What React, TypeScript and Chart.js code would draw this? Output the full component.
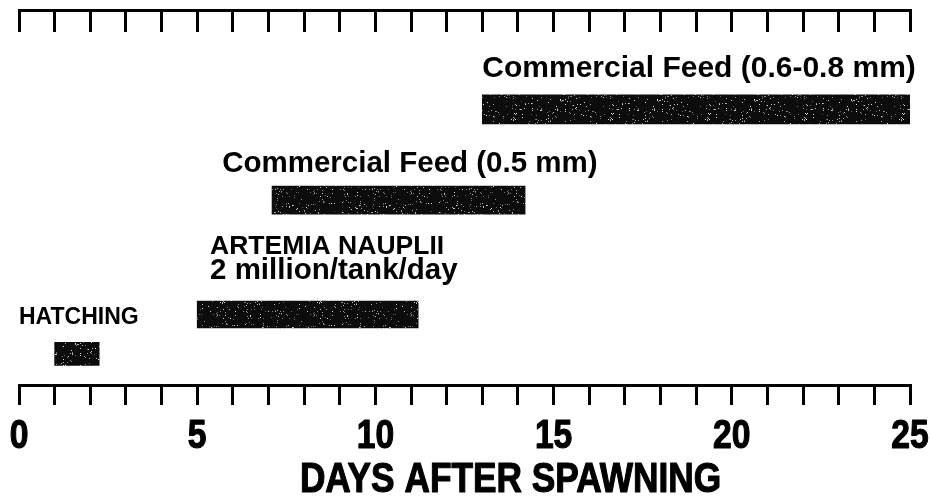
import React, { useEffect, useRef } from "react";
import { Chart, registerables } from "chart.js";

Chart.register(...registerables);

// ---- data ----
const phases = [
  "HATCHING",
  "ARTEMIA NAUPLII",
  "Commercial Feed (0.5 mm)",
  "Commercial Feed (0.6-0.8 mm)",
];
const startDay = [1, 5, 7.1, 13];
const endDay = [2.25, 11.2, 14.2, 25];
const dayLabels = [0, 5, 10, 15, 20, 25];
const axisTitle = "DAYS AFTER SPAWNING";
const annotationLines = [
  "Commercial Feed (0.6-0.8 mm)",
  "Commercial Feed (0.5 mm)",
  "ARTEMIA NAUPLII",
  "2 million/tank/day",
  "HATCHING",
];

// ---- layout (not data) ----
const rowLevel = [8.3, 18.8, 49.3, 73.5];
const rowThickness = [23, 27, 28, 29];
const annotationDay = [13.0, 5.7, 5.36, 5.36, 0];
const annotationLevel = [82.1, 56.8, 34.9, 28.3, 16.3];
const annotationSize = [30, 29.5, 26.5, 29.5, 23];

const SANS = '"Liberation Sans", Arial, Helvetica, sans-serif';
const CONDENSE = 0.82;

function makeSpeckle(): CanvasPattern | string {
  const c = document.createElement("canvas");
  c.width = 97;
  c.height = 61;
  const g = c.getContext("2d");
  if (!g) return "#111";
  g.fillStyle = "#0c0c0c";
  g.fillRect(0, 0, c.width, c.height);
  let s = 20240607;
  const rnd = () => {
    s = (Math.imul(s, 1103515245) + 12345) >>> 0;
    return s / 4294967296;
  };
  for (let i = 0; i < 300; i++) {
    const x = Math.floor(rnd() * c.width);
    const y = Math.floor(rnd() * c.height);
    const v = 80 + Math.floor(rnd() * 150);
    g.fillStyle = `rgb(${v},${v},${v})`;
    g.fillRect(x, y, 1, 1);
  }
  return g.createPattern(c, "repeat") || "#111";
}

function condensedText(ctx: CanvasRenderingContext2D, text: string, cx: number, baseline: number) {
  ctx.save();
  ctx.translate(cx, baseline);
  ctx.scale(CONDENSE, 1);
  ctx.textAlign = "center";
  ctx.textBaseline = "alphabetic";
  ctx.lineWidth = 1.2;
  ctx.strokeStyle = "#000";
  ctx.lineJoin = "round";
  ctx.fillText(text, 0, 0);
  ctx.strokeText(text, 0, 0);
  ctx.restore();
}

const annotationPlugin = {
  id: "annotations",
  afterDraw(chart: any) {
    const { ctx, chartArea } = chart;
    const x = chart.scales.x;
    const y = chart.scales.y;
    ctx.save();
    ctx.fillStyle = "#000";
    ctx.textBaseline = "alphabetic";
    ctx.textAlign = "left";
    annotationLines.forEach((t, i) => {
      ctx.font = `bold ${annotationSize[i]}px ${SANS}`;
      ctx.fillText(t, x.getPixelForValue(annotationDay[i]), y.getPixelForValue(annotationLevel[i]));
    });
    // bottom-axis tick labels (condensed bold), placed through the x scale
    ctx.font = `bold 41px ${SANS}`;
    const labelBaseline = chartArea.bottom + 63;
    x.ticks.forEach((tk: any) => {
      if (dayLabels.includes(tk.value)) {
        condensedText(ctx, String(tk.value), x.getPixelForValue(tk.value), labelBaseline);
      }
    });
    // axis title
    ctx.font = `bold 43px ${SANS}`;
    condensedText(ctx, axisTitle, (chartArea.left + chartArea.right) / 2 + 46, chart.height - 8);
    ctx.restore();
  },
};

export default function App() {
  const ref = useRef<HTMLCanvasElement>(null);
  useEffect(() => {
    if (!ref.current) return;
    const pattern = makeSpeckle();
    const tickGrid = {
      drawOnChartArea: false,
      drawTicks: true,
      tickLength: 20,
      lineWidth: 3,
      color: "#000",
    };
    const border = { display: true, width: 3, color: "#000" };
    const chart = new Chart(ref.current, {
      type: "bar",
      data: {
        datasets: phases.map((p, i) => ({
          label: p,
          data: [{ x: [startDay[i], endDay[i]], y: rowLevel[i] }],
          backgroundColor: pattern,
          borderWidth: 0,
          barThickness: rowThickness[i],
        })) as any,
      },
      options: {
        animation: false,
        responsive: false,
        indexAxis: "y",
        layout: { padding: { left: 19, right: 21, top: 10, bottom: 95 } },
        plugins: {
          legend: { display: false },
          tooltip: { enabled: false },
          title: { display: false },
        },
        datasets: { bar: { grouped: false } },
        scales: {
          x: {
            type: "linear",
            position: "bottom",
            min: 0,
            max: 25,
            ticks: { stepSize: 1, autoSkip: false, display: false },
            grid: tickGrid,
            border,
          },
          x2: {
            type: "linear",
            axis: "x",
            position: { y: 100 },
            min: 0,
            max: 25,
            ticks: { stepSize: 1, autoSkip: false, display: false },
            grid: tickGrid,
            border,
          },
          y: { type: "linear", display: false, offset: false, min: 0, max: 100 },
        },
      } as any,
      plugins: [annotationPlugin],
    });
    return () => chart.destroy();
  }, []);
  return (
    <div style={{ position: "absolute", left: 0, top: 0, width: 931, height: 500, background: "#fff" }}>
      <canvas ref={ref} width={931} height={500} style={{ display: "block" }} />
    </div>
  );
}
